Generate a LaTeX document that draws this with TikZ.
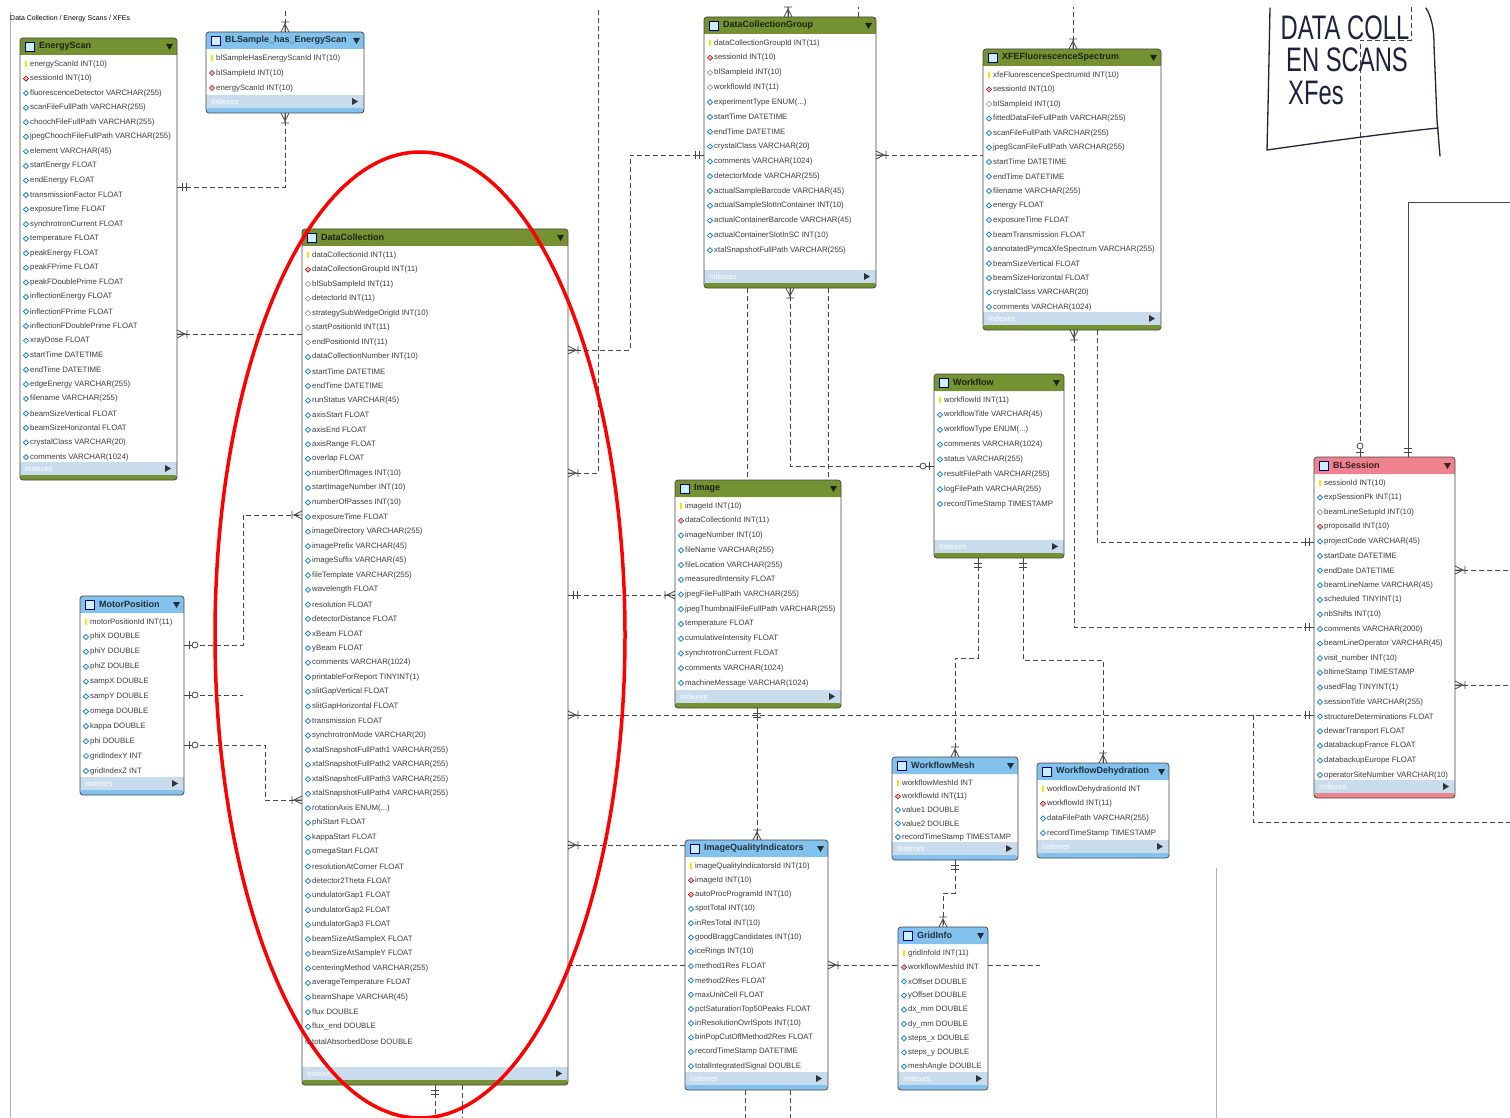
\documentclass[tikz,border=0pt]{standalone}
\usepackage{fontspec}
\setmainfont{Liberation Sans}
\usetikzlibrary{calc,shapes.geometric}

\definecolor{hdgreen}{RGB}{116,146,50}
\definecolor{hdblue}{RGB}{130,194,236}
\definecolor{hdpink}{RGB}{238,130,142}
\definecolor{idxblue}{RGB}{200,220,238}
\definecolor{rowgray}{RGB}{60,60,60}
\definecolor{linegray}{RGB}{70,70,70}
\definecolor{penblue}{RGB}{30,34,60}

\newcommand{\threedots}{...}

\tikzset{
  tablenode/.style={anchor=north west, inner sep=0pt, outer sep=0pt, fill=white},
  tableedge/.style={draw=gray!55!black, line width=0.7pt, rounded corners=3pt},
  rowtext/.style={font=\fontsize{7.8}{8}\selectfont, text=rowgray, inner sep=0pt, anchor=west},
  titletext/.style={font=\bfseries\fontsize{9}{10}\selectfont, inner sep=0pt, anchor=west},
  iconk/.style={rectangle, fill=yellow!85!orange, minimum width=2.5pt, minimum height=6pt, inner sep=0pt},
  iconf/.style={diamond, draw=red!45!black, fill=red!35, minimum size=5.5pt, inner sep=0pt, line width=0.4pt},
  icono/.style={diamond, draw=gray, fill=white, minimum size=5.5pt, inner sep=0pt, line width=0.5pt},
  iconc/.style={diamond, draw=cyan!60!blue, fill=cyan!10, minimum size=5.5pt, inner sep=0pt, line width=0.7pt},
  rowicon/.style={icon#1},
  rel/.style={draw=linegray, dash pattern=on 5pt off 3pt, line width=0.8pt},
  ends/.style={draw=linegray, solid, line width=0.8pt},
  crow/.pic={\draw[ends] (0,-4) -- (8,0) -- (0,4) (0,0) -- (10,0) (10,-4) -- (10,4);},
  oneone/.pic={\draw[ends] (0,0) -- (10,0) (5,-4) -- (5,4) (9,-4) -- (9,4);},
  zeroone/.pic={\draw[ends] (0,0) -- (8,0) (5,-4) -- (5,4); \draw[ends, fill=white] (11,0) circle (3pt);},
  hand/.style={draw=penblue, line width=1.3pt, line cap=round},
  handtext/.style={text=penblue, inner sep=0pt}
}

% table: name, x, y, width, height, header colour, title, row step, rows
\newcommand{\ertable}[9]{%
  \node[tablenode, minimum width=#4pt, minimum height=#5pt] (#1) at (#2,#3) {};
  \fill[#6, rounded corners=3pt] (#2,#3) rectangle ({#2+#4},{#3+17});
  \fill[#6] (#2,{#3+9}) rectangle ({#2+#4},{#3+17});
  \draw[blue!45!black, fill=cyan!20, line width=0.6pt] ({#2+5},{#3+4}) rectangle ({#2+14},{#3+13});
  \node[titletext, text=#6!25!black] at ({#2+19},{#3+8.5}) {#7};
  \fill[#6!25!black] ({#2+#4-11},{#3+6}) -- ({#2+#4-4},{#3+6}) -- ({#2+#4-7.5},{#3+12}) -- cycle;
  \foreach \kind/\txt [count=\i from 0] in {#9}
    \path ({#2+6},{#3+26+\i*#8}) node[rowicon/.expanded=\kind] {}
      ++(4,0) node[rowtext] {\txt};
  \fill[idxblue] (#2,{#3+#5-18}) rectangle ({#2+#4},{#3+#5-5});
  \node[rowtext, text=white] at ({#2+5},{#3+#5-11.5}) {Indexes};
  \fill[gray!40!black] ({#2+#4-12},{#3+#5-15}) -- ({#2+#4-12},{#3+#5-8}) -- ({#2+#4-6},{#3+#5-11.5}) -- cycle;
  \fill[#6, rounded corners=2pt] (#2,{#3+#5-5}) rectangle ({#2+#4},{#3+#5});
  \draw[tableedge] (#1.north west) rectangle (#1.south east);
}

\begin{document}
\begin{tikzpicture}[x=1pt, y=-1pt]
  \useasboundingbox (0,0) rectangle (1510,1118);
  \fill[white] (0,0) rectangle (1510,1118);
  \draw[gray!60, line width=0.6pt] (10,12) -- (10,1118);
  \draw[gray!60, line width=0.6pt] (1216,868) -- (1216,1118);
  \node[rowtext, font=\fontsize{7}{8}\selectfont, text=black] (heading) at (10,19) {Data Collection / Energy Scans / XFEs};

  \ertable{es}{20}{38}{157}{442}{hdgreen}{EnergyScan}{14.56}{k/energyScanId INT(10), f/sessionId INT(10), c/fluorescenceDetector VARCHAR(255), c/scanFileFullPath VARCHAR(255), c/choochFileFullPath VARCHAR(255), c/jpegChoochFileFullPath VARCHAR(255), c/element VARCHAR(45), c/startEnergy FLOAT, c/endEnergy FLOAT, c/transmissionFactor FLOAT, c/exposureTime FLOAT, c/synchrotronCurrent FLOAT, c/temperature FLOAT, c/peakEnergy FLOAT, c/peakFPrime FLOAT, c/peakFDoublePrime FLOAT, c/inflectionEnergy FLOAT, c/inflectionFPrime FLOAT, c/inflectionFDoublePrime FLOAT, c/xrayDose FLOAT, c/startTime DATETIME, c/endTime DATETIME, c/edgeEnergy VARCHAR(255), c/filename VARCHAR(255), c/beamSizeVertical FLOAT, c/beamSizeHorizontal FLOAT, c/crystalClass VARCHAR(20), c/comments VARCHAR(1024)}

  \ertable{bls}{206}{32}{158}{81}{hdblue}{BLSample\_has\_EnergyScan}{15}{k/blSampleHasEnergyScanId INT(10), f/blSampleId INT(10), f/energyScanId INT(10)}

  \ertable{dc}{302}{229}{266}{856}{hdgreen}{DataCollection}{14.56}{k/dataCollectionId INT(11), f/dataCollectionGroupId INT(11), o/blSubSampleId INT(11), o/detectorId INT(11), o/strategySubWedgeOrigId INT(10), o/startPositionId INT(11), o/endPositionId INT(11), c/dataCollectionNumber INT(10), c/startTime DATETIME, c/endTime DATETIME, c/runStatus VARCHAR(45), c/axisStart FLOAT, c/axisEnd FLOAT, c/axisRange FLOAT, c/overlap FLOAT, c/numberOfImages INT(10), c/startImageNumber INT(10), c/numberOfPasses INT(10), c/exposureTime FLOAT, c/imageDirectory VARCHAR(255), c/imagePrefix VARCHAR(45), c/imageSuffix VARCHAR(45), c/fileTemplate VARCHAR(255), c/wavelength FLOAT, c/resolution FLOAT, c/detectorDistance FLOAT, c/xBeam FLOAT, c/yBeam FLOAT, c/comments VARCHAR(1024), c/printableForReport TINYINT(1), c/slitGapVertical FLOAT, c/slitGapHorizontal FLOAT, c/transmission FLOAT, c/synchrotronMode VARCHAR(20), c/xtalSnapshotFullPath1 VARCHAR(255), c/xtalSnapshotFullPath2 VARCHAR(255), c/xtalSnapshotFullPath3 VARCHAR(255), c/xtalSnapshotFullPath4 VARCHAR(255), c/rotationAxis ENUM(\threedots), c/phiStart FLOAT, c/kappaStart FLOAT, c/omegaStart FLOAT, c/resolutionAtCorner FLOAT, c/detector2Theta FLOAT, c/undulatorGap1 FLOAT, c/undulatorGap2 FLOAT, c/undulatorGap3 FLOAT, c/beamSizeAtSampleX FLOAT, c/beamSizeAtSampleY FLOAT, c/centeringMethod VARCHAR(255), c/averageTemperature FLOAT, c/beamShape VARCHAR(45), c/flux DOUBLE, c/flux\_end DOUBLE, c/totalAbsorbedDose DOUBLE}

  \ertable{dcg}{704}{17}{172}{271}{hdgreen}{DataCollectionGroup}{14.8}{k/dataCollectionGroupId INT(11), f/sessionId INT(10), o/blSampleId INT(10), o/workflowId INT(11), c/experimentType ENUM(\threedots), c/startTime DATETIME, c/endTime DATETIME, c/crystalClass VARCHAR(20), c/comments VARCHAR(1024), c/detectorMode VARCHAR(255), c/actualSampleBarcode VARCHAR(45), c/actualSampleSlotInContainer INT(10), c/actualContainerBarcode VARCHAR(45), c/actualContainerSlotInSC INT(10), c/xtalSnapshotFullPath VARCHAR(255)}

  \ertable{xfe}{983}{49}{178}{281}{hdgreen}{XFEFluorescenceSpectrum}{14.5}{k/xfeFluorescenceSpectrumId INT(10), f/sessionId INT(10), o/blSampleId INT(10), c/fittedDataFileFullPath VARCHAR(255), c/scanFileFullPath VARCHAR(255), c/jpegScanFileFullPath VARCHAR(255), c/startTime DATETIME, c/endTime DATETIME, c/filename VARCHAR(255), c/energy FLOAT, c/exposureTime FLOAT, c/beamTransmission FLOAT, c/annotatedPymcaXfeSpectrum VARCHAR(255), c/beamSizeVertical FLOAT, c/beamSizeHorizontal FLOAT, c/crystalClass VARCHAR(20), c/comments VARCHAR(1024)}

  \ertable{wf}{934}{374}{130}{184}{hdgreen}{Workflow}{14.86}{k/workflowId INT(11), c/workflowTitle VARCHAR(45), c/workflowType ENUM(\threedots), c/comments VARCHAR(1024), c/status VARCHAR(255), c/resultFilePath VARCHAR(255), c/logFilePath VARCHAR(255), c/recordTimeStamp TIMESTAMP}

  \ertable{img}{675}{480}{166}{228}{hdgreen}{Image}{14.75}{k/imageId INT(10), f/dataCollectionId INT(11), c/imageNumber INT(10), c/fileName VARCHAR(255), c/fileLocation VARCHAR(255), c/measuredIntensity FLOAT, c/jpegFileFullPath VARCHAR(255), c/jpegThumbnailFileFullPath VARCHAR(255), c/temperature FLOAT, c/cumulativeIntensity FLOAT, c/synchrotronCurrent FLOAT, c/comments VARCHAR(1024), c/machineMessage VARCHAR(1024)}

  \ertable{bs}{1314}{457}{141}{341}{hdpink}{BLSession}{14.6}{k/sessionId INT(10), c/expSessionPk INT(11), o/beamLineSetupId INT(10), f/proposalId INT(10), c/projectCode VARCHAR(45), c/startDate DATETIME, c/endDate DATETIME, c/beamLineName VARCHAR(45), c/scheduled TINYINT(1), c/nbShifts INT(10), c/comments VARCHAR(2000), c/beamLineOperator VARCHAR(45), c/visit\_number INT(10), c/bltimeStamp TIMESTAMP, c/usedFlag TINYINT(1), c/sessionTitle VARCHAR(255), c/structureDeterminations FLOAT, c/dewarTransport FLOAT, c/databackupFrance FLOAT, c/databackupEurope FLOAT, c/operatorSiteNumber VARCHAR(10)}

  \ertable{mp}{80}{596}{104}{199}{hdblue}{MotorPosition}{14.9}{k/motorPositionId INT(11), c/phiX DOUBLE, c/phiY DOUBLE, c/phiZ DOUBLE, c/sampX DOUBLE, c/sampY DOUBLE, c/omega DOUBLE, c/kappa DOUBLE, c/phi DOUBLE, c/gridIndexY INT, c/gridIndexZ INT}

  \ertable{iqi}{685}{840}{143}{250}{hdblue}{ImageQualityIndicators}{14.3}{k/imageQualityIndicatorsId INT(10), f/imageId INT(10), f/autoProcProgramId INT(10), c/spotTotal INT(10), c/inResTotal INT(10), c/goodBraggCandidates INT(10), c/iceRings INT(10), c/method1Res FLOAT, c/method2Res FLOAT, c/maxUnitCell FLOAT, c/pctSaturationTop50Peaks FLOAT, c/inResolutionOvrlSpots INT(10), c/binPopCutOffMethod2Res FLOAT, c/recordTimeStamp DATETIME, c/totalIntegratedSignal DOUBLE}

  \ertable{wm}{892}{757}{126}{103}{hdblue}{WorkflowMesh}{13.5}{k/workflowMeshId INT, f/workflowId INT(11), c/value1 DOUBLE, c/value2 DOUBLE, c/recordTimeStamp TIMESTAMP}

  \ertable{wd}{1037}{763}{132}{95}{hdblue}{WorkflowDehydration}{14.7}{k/workflowDehydrationId INT, f/workflowId INT(11), c/dataFilePath VARCHAR(255), c/recordTimeStamp TIMESTAMP}

  \ertable{gi}{898}{927}{90}{163}{hdblue}{GridInfo}{14.2}{k/gridInfoId INT(11), f/workflowMeshId INT, c/xOffset DOUBLE, c/yOffset DOUBLE, c/dx\_mm DOUBLE, c/dy\_mm DOUBLE, c/steps\_x DOUBLE, c/steps\_y DOUBLE, c/meshAngle DOUBLE}

  % connector ends on the tables
  \coordinate (blsT) at ($(bls.north west)+(79,0)$);
  \coordinate (blsB) at ($(bls.south west)+(79,0)$);
  \coordinate (esR1) at ($(es.north east)+(0,149)$);
  \coordinate (esR2) at ($(es.north east)+(0,296)$);
  \coordinate (dcL1) at ($(dc.north west)+(0,105)$);
  \coordinate (dcL2) at ($(dc.north west)+(0,286)$);
  \coordinate (dcL3) at ($(dc.north west)+(0,571)$);
  \coordinate (dcR1) at ($(dc.north east)+(0,121)$);
  \coordinate (dcR2) at ($(dc.north east)+(0,244)$);
  \coordinate (dcR3) at ($(dc.north east)+(0,366)$);
  \coordinate (dcR4) at ($(dc.north east)+(0,486)$);
  \coordinate (dcR5) at ($(dc.north east)+(0,616)$);
  \coordinate (dcR6) at ($(dc.north east)+(0,736)$);
  \coordinate (dcB1) at ($(dc.south west)+(133,0)$);
  \coordinate (dcB2) at ($(dc.south west)+(160,0)$);
  \coordinate (dcgL) at ($(dcg.north west)+(0,138)$);
  \coordinate (dcgR) at ($(dcg.north east)+(0,138)$);
  \coordinate (dcgT1) at ($(dcg.north west)+(84,0)$);
  \coordinate (dcgT2) at ($(dcg.north west)+(154,0)$);
  \coordinate (dcgB1) at ($(dcg.south west)+(86,0)$);
  \coordinate (dcgB2) at ($(dcg.south west)+(43,0)$);
  \coordinate (dcgB3) at ($(dcg.south west)+(124,0)$);
  \coordinate (xfeL) at ($(xfe.north west)+(0,106)$);
  \coordinate (xfeT) at ($(xfe.north west)+(90,0)$);
  \coordinate (xfeB1) at ($(xfe.south west)+(91,0)$);
  \coordinate (xfeB2) at ($(xfe.south west)+(114,0)$);
  \coordinate (wfL) at ($(wf.north west)+(0,92)$);
  \coordinate (wfB1) at ($(wf.south west)+(44,0)$);
  \coordinate (wfB2) at ($(wf.south west)+(89,0)$);
  \coordinate (imgT1) at ($(img.north west)+(72,0)$);
  \coordinate (imgT2) at ($(img.north west)+(153,0)$);
  \coordinate (imgL) at ($(img.north west)+(0,115)$);
  \coordinate (imgB) at ($(img.south west)+(82,0)$);
  \coordinate (bsL1) at ($(bs.north west)+(0,85)$);
  \coordinate (bsL2) at ($(bs.north west)+(0,170)$);
  \coordinate (bsL3) at ($(bs.north west)+(0,258)$);
  \coordinate (bsBr) at ($(bs.north west)+(-61,258)$);
  \coordinate (bsR1) at ($(bs.north east)+(0,113)$);
  \coordinate (bsR2) at ($(bs.north east)+(0,228)$);
  \coordinate (bsT1) at ($(bs.north west)+(46,0)$);
  \coordinate (bsT2) at ($(bs.north west)+(94,0)$);
  \coordinate (mpR1) at ($(mp.north east)+(0,49)$);
  \coordinate (mpR2) at ($(mp.north east)+(0,99)$);
  \coordinate (mpR3) at ($(mp.north east)+(0,149)$);
  \coordinate (iqiT) at ($(iqi.north west)+(72,0)$);
  \coordinate (iqiL1) at ($(iqi.north west)+(0,5)$);
  \coordinate (iqiL2) at ($(iqi.north west)+(0,125)$);
  \coordinate (iqiR) at ($(iqi.north east)+(0,125)$);
  \coordinate (iqiB1) at ($(iqi.south west)+(60,0)$);
  \coordinate (iqiB2) at ($(iqi.south west)+(105,0)$);
  \coordinate (wmT) at ($(wm.north west)+(63,0)$);
  \coordinate (wmB) at ($(wm.south west)+(63,0)$);
  \coordinate (wdT) at ($(wd.north west)+(66,0)$);
  \coordinate (giT) at ($(gi.north west)+(45,0)$);
  \coordinate (giL) at ($(gi.north west)+(0,38)$);
  \coordinate (giR) at ($(gi.north east)+(0,38)$);

  % relationships
  \draw[rel] (blsT) -- ++(0,-22);
  \draw[rel] (blsB) |- (esR1);
  \draw[rel] (esR2) -- (dcL1);
  \draw[rel] (dcR1) -- ++(62,0) |- (dcgL);
  \draw[rel] (dcgB1) |- (wfL);
  \draw[rel] (dcgB2) -- (imgT1);
  \draw[rel] (dcgB3) -- (imgT2);
  \draw[rel] (dcR2) -- ++(30,0) -- ++(0,-463);
  \draw[rel] (dcR3) -- (imgL);
  \draw[rel] (dcR4) -- (bsL3);
  \draw[rel] (bsBr) |- ++(257,107);
  \draw[rel] (imgB) -- (iqiT);
  \draw[rel] (dcgR) -- (xfeL);
  \draw[rel] (dcgT1) -- ++(0,-10);
  \draw[rel] (dcgT2) -- ++(0,-10);
  \draw[rel] (xfeT) -- ++(0,-42);
  \draw[rel] (xfeB1) |- (bsL2);
  \draw[rel] (xfeB2) |- (bsL1);
  \draw[rel] (wfB1) -- ++(0,100) -| (wmT);
  \draw[rel] (wfB2) -- ++(0,102) -| (wdT);
  \draw[rel] (wmB) -- ++(0,33) -| (giT);
  \draw[rel] (iqiR) -- (giL);
  \draw[rel] (giR) -- ++(52,0);
  \draw[rel] (dcR5) -- (iqiL1);
  \draw[rel] (dcR6) -- (iqiL2);
  \draw[rel] (mpR1) -- ++(59,0) |- (dcL2);
  \draw[rel] (mpR2) -- ++(59,0);
  \draw[rel] (mpR3) -- ++(81,0) |- (dcL3);
  \draw[rel] (dcB1) -- ++(0,33);
  \draw[rel] (dcB2) -- ++(0,33);
  \draw[rel] (iqiB1) -- ++(0,28);
  \draw[rel] (iqiB2) -- ++(0,28);
  \draw[rel] (bsR1) -- ++(55,0);
  \draw[rel] (bsR2) -- ++(55,0);
  \draw[rel] (bsT1) -- ++(0,-417) -- ++(51,0) -- ++(0,-35);
  \draw[ends] (bsT2) -- ++(0,-255) -- ++(102,0);

  % cardinality marks
  \path (blsT) pic[rotate=90] {crow};
  \path (blsB) pic[rotate=-90] {crow};
  \path (esR1) pic {oneone};
  \path (esR2) pic {crow};
  \path (dcR1) pic {crow};
  \path (dcgL) pic[rotate=180] {oneone};
  \path (dcgB1) pic[rotate=-90] {crow};
  \path (wfL) pic[rotate=180] {zeroone};
  \path (dcR2) pic {crow};
  \path (dcR3) pic {oneone};
  \path (imgL) pic[rotate=180] {crow};
  \path (dcR4) pic {crow};
  \path (bsL3) pic[rotate=180] {oneone};
  \path (imgB) pic[rotate=-90] {oneone};
  \path (iqiT) pic[rotate=90] {crow};
  \path (dcgR) pic {crow};
  \path (dcgT1) pic[rotate=90] {crow};
  \path (xfeT) pic[rotate=90] {crow};
  \path (xfeB1) pic[rotate=-90] {crow};
  \path (bsL2) pic[rotate=180] {oneone};
  \path (bsL1) pic[rotate=180] {oneone};
  \path (wfB1) pic[rotate=-90] {oneone};
  \path (wfB2) pic[rotate=-90] {oneone};
  \path (wmT) pic[rotate=90] {crow};
  \path (wdT) pic[rotate=90] {crow};
  \path (wmB) pic[rotate=-90] {oneone};
  \path (giT) pic[rotate=90] {crow};
  \path (iqiR) pic {crow};
  \path (dcR5) pic {crow};
  \path (dcL2) pic[rotate=180] {crow};
  \path (dcL3) pic[rotate=180] {crow};
  \path (mpR1) pic {zeroone};
  \path (mpR2) pic {zeroone};
  \path (mpR3) pic {zeroone};
  \path (dcB1) pic[rotate=-90] {oneone};
  \path (bsR1) pic {crow};
  \path (bsR2) pic {crow};
  \path (bsT1) pic[rotate=90] {zeroone};
  \path (bsT2) pic[rotate=90] {oneone};

  % handwritten note
  \draw[hand] (1270,8) .. controls (1269,60) and (1268,110) .. (1267,150)
    .. controls (1330,141) and (1390,133) .. (1438,128);
  \draw[hand] (1426,8) .. controls (1432,18) and (1434,30) .. (1434,45)
    -- (1437,120) .. controls (1438,138) .. (1440,156);
  \node[handtext] (note1) at (1345,28) {\scalebox{0.7}[1]{\fontsize{34}{34}\selectfont DATA COLL}};
  \node[handtext] (note2) at (1347,60) {\scalebox{0.7}[1]{\fontsize{34}{34}\selectfont EN SCANS}};
  \node[handtext] (note3) at (1316,93) {\scalebox{0.7}[1]{\fontsize{34}{34}\selectfont XFes}};

  % red mark round the DataCollection table
  \draw[red, line width=3.5pt] (420,635) ellipse [x radius=205pt, y radius=483pt];
\end{tikzpicture}
\end{document}
